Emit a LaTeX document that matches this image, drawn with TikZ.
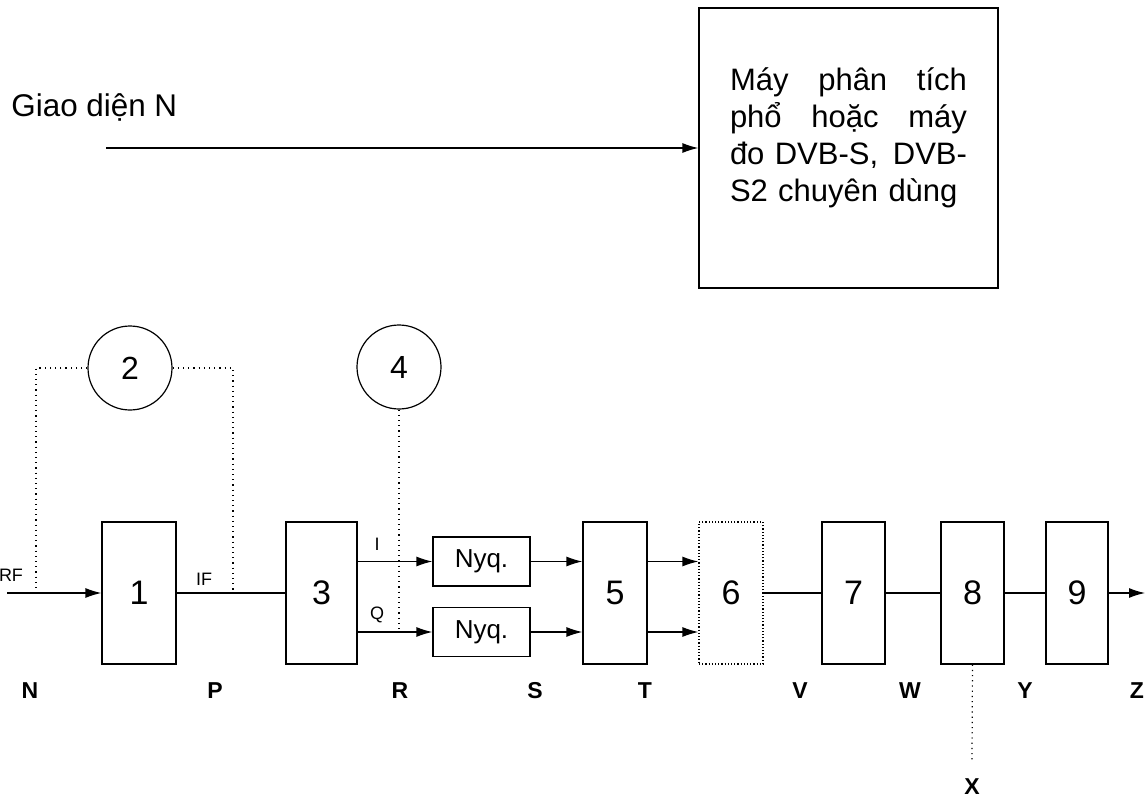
\documentclass[tikz,border=0pt]{standalone}
\usepackage{fontspec}
\setmainfont{Liberation Sans}
\usetikzlibrary{arrows.meta,positioning}

\tikzset{
    blk/.style={draw, line width=0.6pt, minimum width=#1, minimum height=71pt, inner sep=0pt,
        font=\fontsize{17}{20}\selectfont},
    nyq/.style={draw, line width=0.6pt, minimum width=48.5pt, minimum height=24.5pt, inner sep=0pt,
        font=\fontsize{13}{15}\selectfont},
    ring/.style={draw, circle, line width=0.6pt, minimum size=42pt, inner sep=0pt,
        font=\fontsize{16}{18}\selectfont},
    arr/.style={line width=0.6pt, -{Latex[length=8pt,width=5pt]}},
    wire/.style={line width=0.6pt},
    dots/.style={line width=0.6pt, dotted},
    sig/.style={font=\fontsize{9}{10}\selectfont, inner sep=0pt},
    pointlabel/.style={font=\bfseries\fontsize{11.5}{14}\selectfont, inner sep=0pt}
}

\begin{document}
\begin{tikzpicture}[x=0.5pt,y=-0.5pt]
    \useasboundingbox (0,0) rectangle (1148,798);

    % upper part: interface N to the analyser
    \node[anchor=west, inner sep=0pt, font=\fontsize{15.7}{18}\selectfont] (giao) at (11,107) {Giao diện N};
    \node[draw, line width=0.6pt, minimum width=149.5pt, minimum height=140pt] (analyzer) at (848.5,148) {};
    \node[text width=118.5pt, align=left, inner sep=0pt, font=\fontsize{15.5}{18.5}\selectfont] (analyzertext)
        at ([yshift=5pt]analyzer.center)
        {Máy\hfill phân\hfill tích\\ phổ\hfill hoặc\hfill máy\\ đo DVB-S,\hfill DVB-\\ S2 chuyên dùng};
    \coordinate (gstart) at (106,148);
    \draw[arr] (gstart) -- (analyzer.west);

    % receiver chain
    \node[blk=37pt] (b1) at (139,593) {1};
    \node[blk=35.5pt] (b3) at (321.5,593) {3};
    \node[nyq] (nyq1) at (481.5,561.5) {Nyq.};
    \node[nyq] (nyq2) at (481.5,632) {Nyq.};
    \node[blk=32pt] (b5) at (615,593) {5};
    \node[blk=32pt, densely dotted] (b6) at (731,593) {6};
    \node[blk=31.5pt] (b7) at (853.5,593) {7};
    \node[blk=31.5pt] (b8) at (972.5,593) {8};
    \node[blk=31pt] (b9) at (1077,593) {9};
    \node[ring] (c2) at (130,368) {2};
    \node[ring] (c4) at (399,367) {4};

    \coordinate (rfin) at (7,593);
    \coordinate (rfjoin) at (36,593);
    \coordinate (ifjoin) at (233,593);
    \coordinate (zout) at (1145,593);
    \coordinate (xend) at (972,760);

    \draw[arr] (rfin) -- (b1.west);
    \draw[wire] (b1.east) -- (b3.west);
    \draw[arr] (b3.east |- nyq1.west) -- (nyq1.west);
    \draw[arr] (b3.east |- nyq2.west) -- (nyq2.west);
    \draw[arr] (nyq1.east) -- (b5.west |- nyq1.east);
    \draw[arr] (nyq2.east) -- (b5.west |- nyq2.east);
    \draw[arr] (b5.east |- nyq1.east) -- (b6.west |- nyq1.east);
    \draw[arr] (b5.east |- nyq2.east) -- (b6.west |- nyq2.east);
    \draw[wire] (b6.east) -- (b7.west);
    \draw[wire] (b7.east) -- (b8.west);
    \draw[wire] (b8.east) -- (b9.west);
    \draw[arr] (b9.east) -- (zout);

    % monitoring taps
    \draw[dots] (c2.west) -| (rfjoin);
    \draw[dots] (c2.east) -| (ifjoin);
    \draw[dots] (c4.south) -- (c4.south |- nyq2.west);
    \draw[dots] (b8.south) -- (xend);

    \node[sig] (rf) at (11,575) {RF};
    \node[sig] (if) at (204,579) {IF};
    \node[sig] (isig) at (377,544) {I};
    \node[sig] (qsig) at (377,615) {Q};

    \foreach \x/\lab in {30/N,215/P,400/R,535/S,645/T,800/V,910/W,1025/Y,1137/Z}
    {
        \node[pointlabel] (pt\lab) at (\x,691) {\lab};
    }
    \node[pointlabel] (ptX) at (972,787) {X};
\end{tikzpicture}
\end{document}
